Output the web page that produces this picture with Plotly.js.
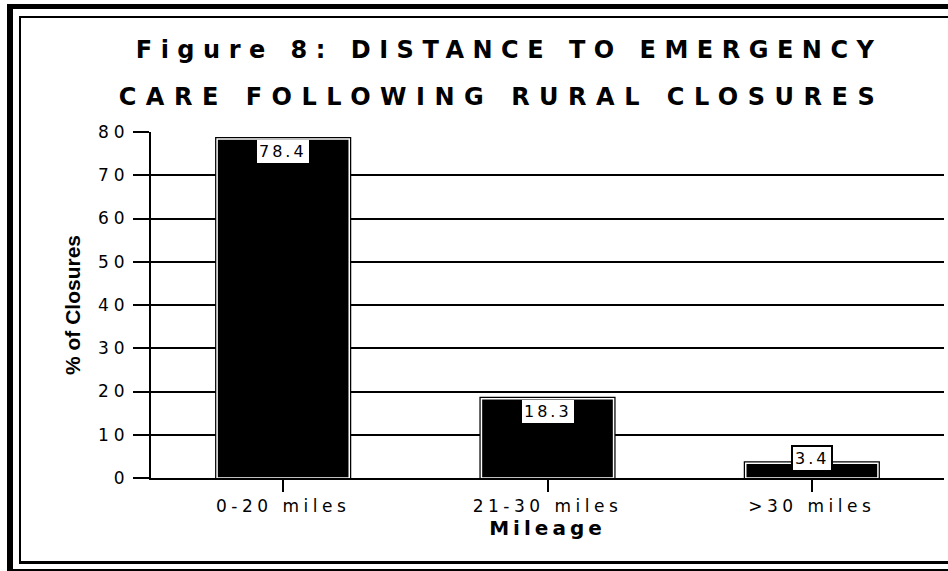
<!DOCTYPE html>
<html><head><meta charset="utf-8">
<script src="https://cdn.plot.ly/plotly-3.0.1.min.js"></script>
<style>
html,body{margin:0;padding:0;background:#fff;overflow:hidden;width:948px;height:571px;}
#chart{position:absolute;left:0;top:0;width:948px;height:571px;}
.frame{position:absolute;box-sizing:border-box;border-style:solid;border-color:#000;border-right:none;pointer-events:none;}
#outer{left:7px;top:4px;width:960px;height:567px;border-left-width:6px;border-top-width:5px;border-bottom-width:2px;}
#inner{left:19px;top:16px;width:960px;height:548px;border-left-width:2px;border-top-width:2px;border-bottom-width:3px;}
.gtitle{letter-spacing:8.5px;}
.xtick text{letter-spacing:4.5px;}
.ytick text{letter-spacing:5px;}
.xtitle{letter-spacing:4px;}
.annotation-text{letter-spacing:3px;}
.annotation[data-index="3"] .annotation-text{letter-spacing:9.5px;}
</style>
</head><body>
<div id="chart"></div>
<div id="outer" class="frame"></div>
<div id="inner" class="frame"></div>
<script>
const categories = ['0-20 miles', '21-30 miles', '>30 miles'];
const values = [78.4, 18.3, 3.4];
const yTickVals = [0, 10, 20, 30, 40, 50, 60, 70, 80];
const titleLine1 = 'Figure 8: DISTANCE TO EMERGENCY';
const titleLine2 = 'CARE FOLLOWING RURAL CLOSURES';
const xTitle = 'Mileage';
const yTitle = '% of Closures';

const back = {
  type: 'bar', x: categories, y: values, width: 0.5,
  marker: {color: '#000', line: {color: '#000', width: 4}},
  hoverinfo: 'skip', showlegend: false
};
const front = {
  type: 'bar', x: categories, y: values, width: 0.5,
  marker: {color: '#000', line: {color: '#fff', width: 1.5}},
  showlegend: false
};

const labelAnn = values.map((v, i) => ({
  x: categories[i], y: v, xref: 'x', yref: 'y',
  text: v.toFixed(1), showarrow: false,
  bgcolor: '#fff', bordercolor: '#000', borderwidth: v < 10 ? 2 : 0, borderpad: 2,
  font: {family: 'DejaVu Sans', size: 16, color: '#000'},
  yanchor: v >= 10 ? 'top' : 'middle', yshift: v >= 10 ? -1 : 5
}));

const layout = {
  width: 948, height: 571,
  margin: {l: 151, r: 4, t: 132, b: 93},
  paper_bgcolor: 'rgba(0,0,0,0)', plot_bgcolor: '#fff',
  barmode: 'overlay', showlegend: false,
  title: {
    text: titleLine1,
    font: {family: 'DejaVu Sans', size: 24, weight: 'bold', color: '#000'},
    xref: 'container', x: 0.537, xanchor: 'center',
    yref: 'container', y: 1 - 50 / 571, yanchor: 'middle'
  },
  xaxis: {
    type: 'category', showline: true, linecolor: '#000', linewidth: 2,
    ticks: 'outside', ticklen: 12, tickwidth: 2, tickcolor: '#000',
    tickfont: {family: 'DejaVu Sans', size: 17, color: '#000'},
    showgrid: false, zeroline: false, layer: 'above traces',
    title: {text: xTitle, font: {family: 'DejaVu Sans', size: 20, weight: 'bold', color: '#000'}, standoff: 6}
  },
  yaxis: {
    range: [0, 80], tickvals: yTickVals, showline: true, linecolor: '#000', linewidth: 2,
    ticks: 'outside', ticklen: 16, tickwidth: 2, tickcolor: '#000',
    tickfont: {family: 'DejaVu Sans', size: 17, color: '#000'},
    showgrid: true, gridcolor: '#000', gridwidth: 2, zeroline: false,
    title: {text: yTitle, font: {family: 'Liberation Sans', size: 21, weight: 'bold', color: '#000'}, standoff: 12}
  },
  annotations: labelAnn.concat([{
    xref: 'paper', yref: 'paper', x: 0.4414, y: 1.1012,
    xanchor: 'center', yanchor: 'middle', showarrow: false,
    text: titleLine2,
    font: {family: 'DejaVu Sans', size: 24, weight: 'bold', color: '#000'}
  }])
};

Plotly.newPlot('chart', [back, front], layout, {displayModeBar: false, staticPlot: true});
</script>
</body></html>
